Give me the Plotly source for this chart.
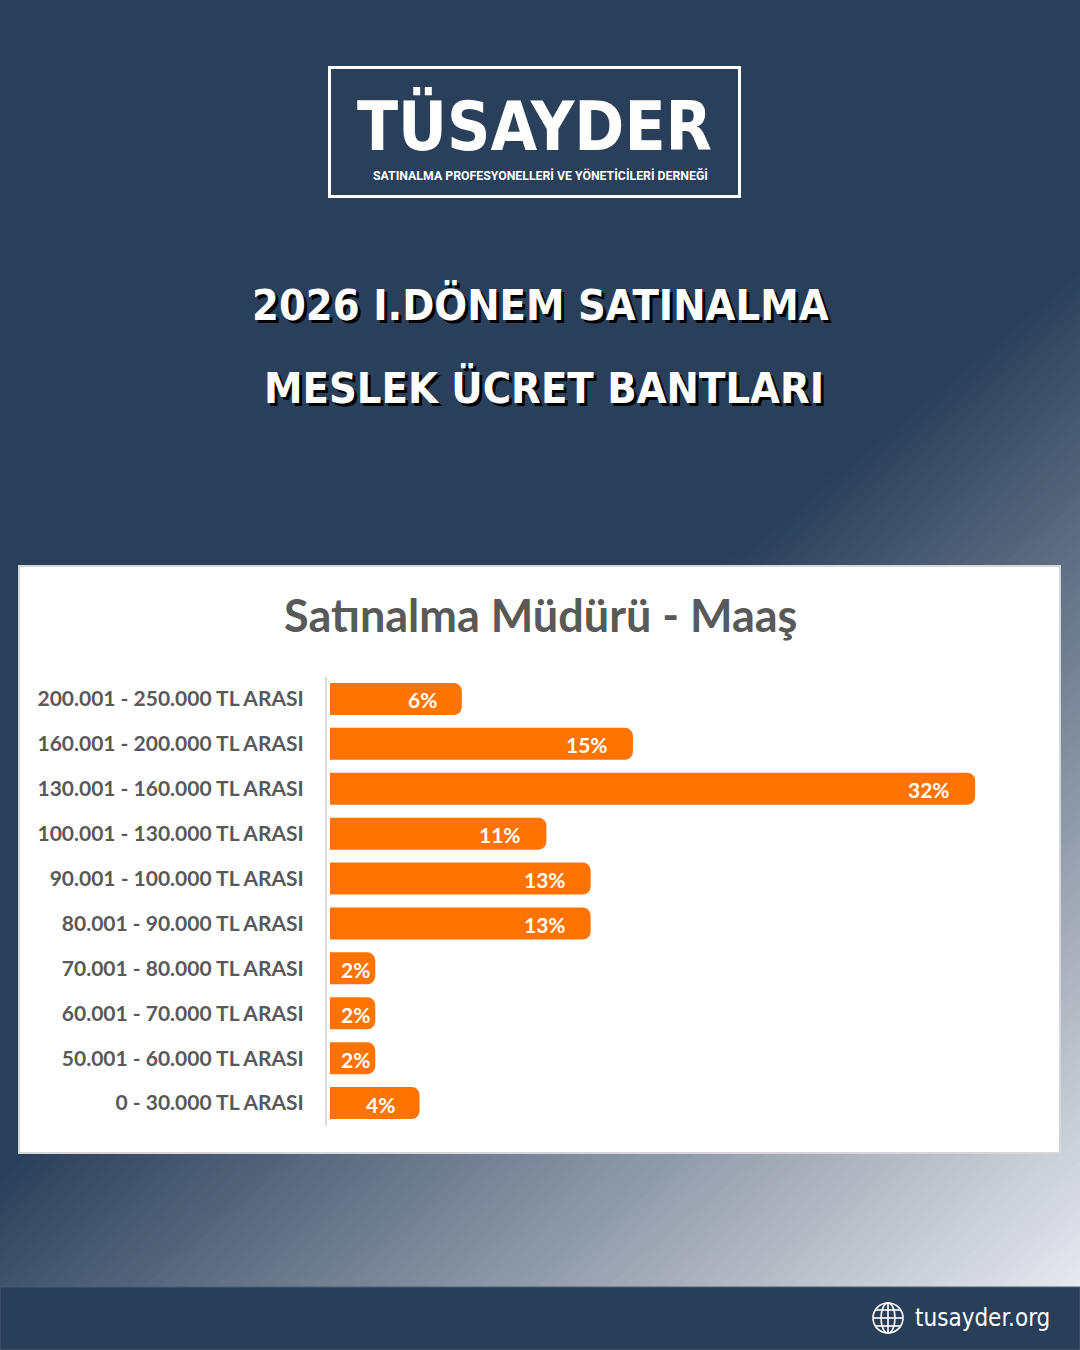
import math
import plotly.graph_objects as go

W, H = 1080, 1350

# ---------------- data ----------------
categories = [
    "200.001 - 250.000 TL ARASI",
    "160.001 - 200.000 TL ARASI",
    "130.001 - 160.000 TL ARASI",
    "100.001 - 130.000 TL ARASI",
    "90.001 - 100.000 TL ARASI",
    "80.001 - 90.000 TL ARASI",
    "70.001 - 80.000 TL ARASI",
    "60.001 - 70.000 TL ARASI",
    "50.001 - 60.000 TL ARASI",
    "0 - 30.000 TL ARASI",
]
values = [6.4, 14.9, 31.9, 10.6, 12.8, 12.8, 2.1, 2.1, 2.1, 4.3]
value_labels = ["6%", "15%", "32%", "11%", "13%", "13%", "2%", "2%", "2%", "4%"]

title_lines = ["2026 I.DÖNEM SATINALMA", "MESLEK ÜCRET BANTLARI"]
chart_title = "Satınalma Müdürü - Maaş"
logo_text = "TÜSAYDER"
logo_sub = "SATINALMA PROFESYONELLERİ VE YÖNETİCİLERİ DERNEĞİ"
footer_text = "tusayder.org"

# ---------------- style ----------------
NAVY = "#2a3f5a"
NAVY_RGB = (42, 63, 90)
LIGHT_RGB = (238, 240, 243)
ORANGE = "#ff7300"
GREY_TEXT = "#595959"
COND = "DejaVu Sans Condensed, sans-serif"
BODY = "Lato, Open Sans, sans-serif"

PX_PER_UNIT = 20.13
ZERO_PX = 330
RIGHT_PX = 1040
TOP_PX, BOT_PX = 676.5, 1125.5


def X(px):
    return px / W


def Y(py):
    return 1 - py / H


shapes = []
shapes.append(dict(type="rect", xref="paper", yref="paper", x0=0, x1=1, y0=0, y1=1,
                   fillcolor=NAVY, line_width=0, layer="below"))

# diagonal gradient made of stacked half-planes
GA, GB, GC = 0.00079, 0.00094, 1.1
norm = math.hypot(GA, GB)
nx, ny = GA / norm, GB / norm
dx, dy = -ny, nx
N = 90
L = 4000
for i in range(N):
    f = i / N
    fm = (i + 0.5) / N
    s = (GC + f) / norm
    p0x, p0y = s * nx, s * ny
    pts = [(p0x + L * dx, p0y + L * dy), (p0x - L * dx, p0y - L * dy),
           (p0x - L * dx + L * nx, p0y - L * dy + L * ny), (p0x + L * dx + L * nx, p0y + L * dy + L * ny)]
    path = "M " + " L ".join(f"{X(p[0]):.5f},{Y(p[1]):.5f}" for p in pts) + " Z"
    col = tuple(round(NAVY_RGB[k] + (LIGHT_RGB[k] - NAVY_RGB[k]) * fm) for k in range(3))
    shapes.append(dict(type="path", path=path, xref="paper", yref="paper",
                       fillcolor=f"rgb({col[0]},{col[1]},{col[2]})", line_width=0, layer="below"))

# footer band
shapes.append(dict(type="rect", xref="paper", yref="paper", x0=0, x1=1, y0=Y(1350), y1=Y(1287),
                   fillcolor="#293e59", line=dict(color="#4a5c73", width=1), layer="below"))
# white chart panel
shapes.append(dict(type="rect", xref="paper", yref="paper", x0=X(19), x1=X(1060), y0=Y(1153), y1=Y(566),
                   fillcolor="white", line=dict(color="#d3d7dc", width=2), layer="below"))
# logo frame
shapes.append(dict(type="rect", xref="paper", yref="paper", x0=X(329.5), x1=X(739.5), y0=Y(196.5), y1=Y(67.5),
                   fillcolor="rgba(0,0,0,0)", line=dict(color="white", width=3), layer="below"))
# value axis line
shapes.append(dict(type="line", xref="paper", yref="paper", x0=X(326), x1=X(326), y0=Y(1126), y1=Y(677),
                   line=dict(color="#d9d9d9", width=2), layer="above"))

# globe icon
gcx, gcy, gr = 888, 1318, 15
gl = dict(color="white", width=1.6)
shapes.append(dict(type="circle", xref="paper", yref="paper", x0=X(gcx - gr), x1=X(gcx + gr),
                   y0=Y(gcy + gr), y1=Y(gcy - gr), line=gl, fillcolor="rgba(0,0,0,0)", layer="above"))
shapes.append(dict(type="circle", xref="paper", yref="paper", x0=X(gcx - 7), x1=X(gcx + 7),
                   y0=Y(gcy + gr), y1=Y(gcy - gr), line=gl, fillcolor="rgba(0,0,0,0)", layer="above"))
shapes.append(dict(type="line", xref="paper", yref="paper", x0=X(gcx), x1=X(gcx),
                   y0=Y(gcy + gr), y1=Y(gcy - gr), line=gl, layer="above"))
for off in (-8, 0, 8):
    hw = math.sqrt(gr ** 2 - off ** 2)
    shapes.append(dict(type="line", xref="paper", yref="paper", x0=X(gcx - hw), x1=X(gcx + hw),
                       y0=Y(gcy + off), y1=Y(gcy + off), line=gl, layer="above"))

# ---------------- figure ----------------
fig = go.Figure()
fig.add_trace(go.Bar(
    x=values, y=categories, orientation="h", width=0.58,
    marker=dict(color=ORANGE, line=dict(color=ORANGE, width=6), cornerradius=5),
    hoverinfo="skip", showlegend=False,
))

annotations = []
for v, c, lab in zip(values, categories, value_labels):
    shift = -min(20.0, max(0.0, v * PX_PER_UNIT - 42))
    annotations.append(dict(x=v, y=c, xref="x", yref="y", text=lab, showarrow=False,
                            xanchor="right", yanchor="middle", xshift=shift, yshift=-1,
                            font=dict(family=BODY, size=21, color="white", weight="bold")))

title_font = dict(family=COND, size=43, color="white", weight="bold", shadow="3px 3px 0px #000000")
annotations.append(dict(x=X(540), y=Y(305), xref="paper", yref="paper", text=title_lines[0],
                        showarrow=False, xanchor="center", yanchor="middle", font=title_font))
annotations.append(dict(x=X(544), y=Y(388), xref="paper", yref="paper", text=title_lines[1],
                        showarrow=False, xanchor="center", yanchor="middle", font=title_font))
annotations.append(dict(x=X(540), y=Y(615), xref="paper", yref="paper", text=chart_title,
                        showarrow=False, xanchor="center", yanchor="middle",
                        font=dict(family=BODY, size=45, color=GREY_TEXT, weight="bold")))
annotations.append(dict(x=X(534), y=Y(126), xref="paper", yref="paper", text=logo_text,
                        showarrow=False, xanchor="center", yanchor="middle",
                        font=dict(family=COND, size=67, color="white", weight="bold")))
annotations.append(dict(x=X(540), y=Y(176), xref="paper", yref="paper", text=logo_sub,
                        showarrow=False, xanchor="center", yanchor="middle",
                        font=dict(family="Roboto, sans-serif", size=12.3, color="white", weight="bold")))
annotations.append(dict(x=X(1052), y=Y(1318), xref="paper", yref="paper", text=footer_text,
                        showarrow=False, xanchor="right", yanchor="middle",
                        font=dict(family=COND, size=24, color="white")))

fig.update_layout(
    width=W, height=H, autosize=False,
    margin=dict(l=0, r=0, t=0, b=0, pad=0),
    paper_bgcolor=NAVY, plot_bgcolor="rgba(0,0,0,0)",
    shapes=shapes, annotations=annotations,
    xaxis=dict(domain=[X(ZERO_PX), X(RIGHT_PX)], range=[0, (RIGHT_PX - ZERO_PX) / PX_PER_UNIT],
               visible=False, fixedrange=True),
    yaxis=dict(domain=[Y(BOT_PX), Y(TOP_PX)], type="category", categoryorder="array",
               categoryarray=categories, range=[len(categories) - 0.5, -0.5],
               showgrid=False, zeroline=False, showline=False,
               ticks="outside", ticklen=21, tickcolor="rgba(0,0,0,0)",
               tickfont=dict(family=BODY, size=21, color=GREY_TEXT, weight="bold"),
               fixedrange=True),
)

fig.write_html("out.html", config={"displayModeBar": False},
               post_script="document.body.style.margin='0';document.body.style.overflow='hidden';")
